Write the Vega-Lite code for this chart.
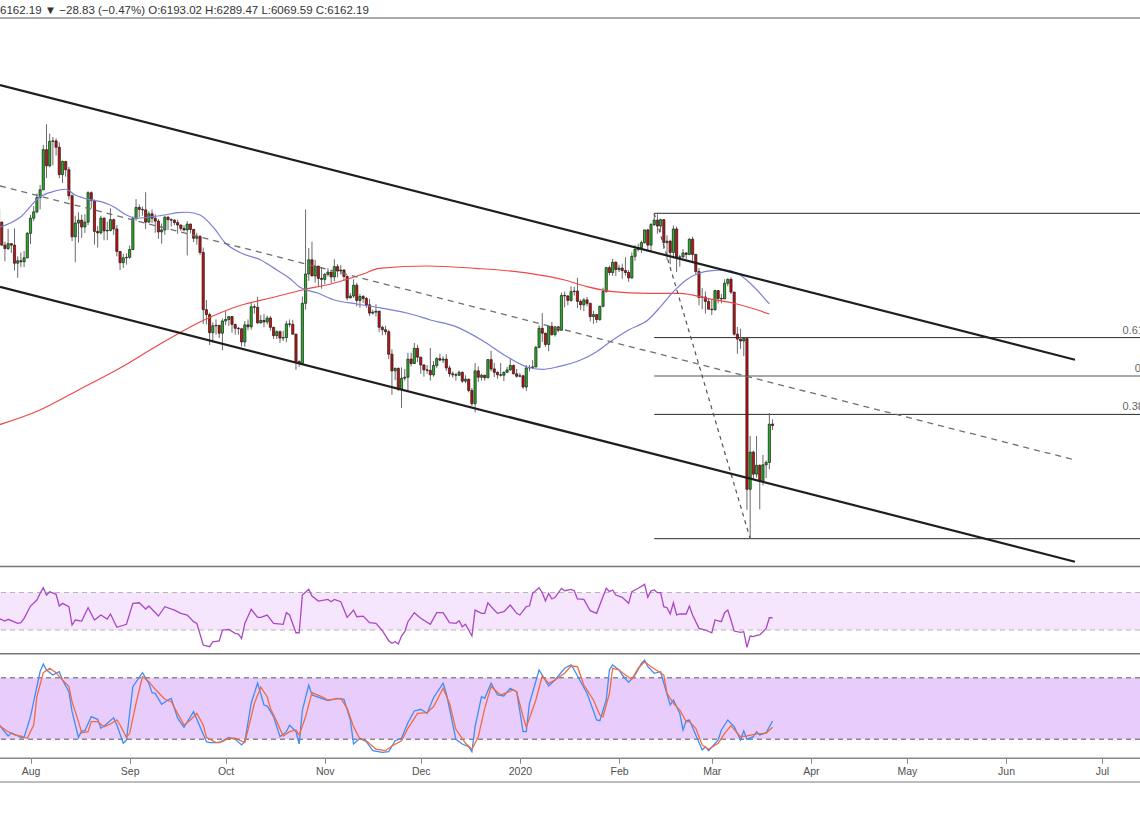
{
"$schema":"https://vega.github.io/schema/vega-lite/v6.json",
"width":1140,"height":764,
"autosize":{"type":"none"},
"padding":{"left":0,"top":18,"right":0,"bottom":33},
"background":"white",
"title":{"text":"6162.19 ▼ −28.83 (−0.47%) O:6193.02 H:6289.47 L:6069.59 C:6162.19","anchor":"start","frame":"group","orient":"top","offset":0.5,"fontSize":11.5,"font":"Liberation Sans","fontWeight":"normal","color":"#333333"},
"config":{"view":{"stroke":null}},
"datasets":{
"one":[{}],
"candles":[
{"d":"2019-07-22","o":10590,"h":10660,"l":10090,"c":10320},
{"d":"2019-07-23","o":10320,"h":10330,"l":9830,"c":9850},
{"d":"2019-07-24","o":9850,"h":9920,"l":9520,"c":9780},
{"d":"2019-07-25","o":9780,"h":10180,"l":9750,"c":9880},
{"d":"2019-07-26","o":9880,"h":9890,"l":9690,"c":9850},
{"d":"2019-07-27","o":9850,"h":10190,"l":9330,"c":9480},
{"d":"2019-07-28","o":9480,"h":9620,"l":9180,"c":9530},
{"d":"2019-07-29","o":9530,"h":9700,"l":9400,"c":9510},
{"d":"2019-07-30","o":9510,"h":9730,"l":9400,"c":9590},
{"d":"2019-07-31","o":9590,"h":10120,"l":9580,"c":10090},
{"d":"2019-08-01","o":10090,"h":10470,"l":9870,"c":10400},
{"d":"2019-08-02","o":10400,"h":10650,"l":10340,"c":10530},
{"d":"2019-08-03","o":10530,"h":10910,"l":10500,"c":10820},
{"d":"2019-08-04","o":10820,"h":11080,"l":10580,"c":10980},
{"d":"2019-08-05","o":10980,"h":11900,"l":10980,"c":11800},
{"d":"2019-08-06","o":11800,"h":12320,"l":11220,"c":11470},
{"d":"2019-08-07","o":11470,"h":12130,"l":11440,"c":11970},
{"d":"2019-08-08","o":11970,"h":12060,"l":11480,"c":11980},
{"d":"2019-08-09","o":11980,"h":12030,"l":11680,"c":11850},
{"d":"2019-08-10","o":11850,"h":11950,"l":11220,"c":11290},
{"d":"2019-08-11","o":11290,"h":11580,"l":11120,"c":11560},
{"d":"2019-08-12","o":11560,"h":11570,"l":11250,"c":11390},
{"d":"2019-08-13","o":11390,"h":11450,"l":10780,"c":10860},
{"d":"2019-08-14","o":10860,"h":10880,"l":9930,"c":10020},
{"d":"2019-08-15","o":10020,"h":10450,"l":9500,"c":10300},
{"d":"2019-08-16","o":10300,"h":10520,"l":9900,"c":10360},
{"d":"2019-08-17","o":10360,"h":10470,"l":10000,"c":10220},
{"d":"2019-08-18","o":10220,"h":10480,"l":10100,"c":10320},
{"d":"2019-08-19","o":10320,"h":10950,"l":10260,"c":10920},
{"d":"2019-08-20","o":10920,"h":10950,"l":10600,"c":10760},
{"d":"2019-08-21","o":10760,"h":10780,"l":9860,"c":10130},
{"d":"2019-08-22","o":10130,"h":10240,"l":9800,"c":10100},
{"d":"2019-08-23","o":10100,"h":10450,"l":10070,"c":10400},
{"d":"2019-08-24","o":10400,"h":10420,"l":9950,"c":10140},
{"d":"2019-08-25","o":10140,"h":10330,"l":9950,"c":10150},
{"d":"2019-08-26","o":10150,"h":10600,"l":10130,"c":10370},
{"d":"2019-08-27","o":10370,"h":10390,"l":10060,"c":10180},
{"d":"2019-08-28","o":10180,"h":10260,"l":9620,"c":9720},
{"d":"2019-08-29","o":9720,"h":9730,"l":9340,"c":9490},
{"d":"2019-08-30","o":9490,"h":9670,"l":9380,"c":9590},
{"d":"2019-08-31","o":9590,"h":9680,"l":9450,"c":9600},
{"d":"2019-09-01","o":9600,"h":9840,"l":9570,"c":9760},
{"d":"2019-09-02","o":9760,"h":10440,"l":9750,"c":10390},
{"d":"2019-09-03","o":10390,"h":10790,"l":10350,"c":10620},
{"d":"2019-09-04","o":10620,"h":10680,"l":10420,"c":10580},
{"d":"2019-09-05","o":10580,"h":10640,"l":10450,"c":10570},
{"d":"2019-09-06","o":10570,"h":10930,"l":10180,"c":10320},
{"d":"2019-09-07","o":10320,"h":10540,"l":10300,"c":10490},
{"d":"2019-09-08","o":10490,"h":10580,"l":10300,"c":10400},
{"d":"2019-09-09","o":10400,"h":10480,"l":10100,"c":10340},
{"d":"2019-09-10","o":10340,"h":10380,"l":9980,"c":10120},
{"d":"2019-09-11","o":10120,"h":10290,"l":9880,"c":10160},
{"d":"2019-09-12","o":10160,"h":10450,"l":10060,"c":10420},
{"d":"2019-09-13","o":10420,"h":10450,"l":10160,"c":10370},
{"d":"2019-09-14","o":10370,"h":10400,"l":10230,"c":10360},
{"d":"2019-09-15","o":10360,"h":10380,"l":10260,"c":10310},
{"d":"2019-09-16","o":10310,"h":10370,"l":10080,"c":10260},
{"d":"2019-09-17","o":10260,"h":10270,"l":10140,"c":10190},
{"d":"2019-09-18","o":10190,"h":10260,"l":10130,"c":10160},
{"d":"2019-09-19","o":10160,"h":10340,"l":9640,"c":10280},
{"d":"2019-09-20","o":10280,"h":10290,"l":10090,"c":10170},
{"d":"2019-09-21","o":10170,"h":10180,"l":9910,"c":9990},
{"d":"2019-09-22","o":9990,"h":10100,"l":9860,"c":10030},
{"d":"2019-09-23","o":10030,"h":10050,"l":9650,"c":9700},
{"d":"2019-09-24","o":9700,"h":9800,"l":8240,"c":8530},
{"d":"2019-09-25","o":8530,"h":8730,"l":8230,"c":8430},
{"d":"2019-09-26","o":8430,"h":8470,"l":7810,"c":8060},
{"d":"2019-09-27","o":8060,"h":8270,"l":7860,"c":8200},
{"d":"2019-09-28","o":8200,"h":8330,"l":8020,"c":8210},
{"d":"2019-09-29","o":8210,"h":8220,"l":7950,"c":8050},
{"d":"2019-09-30","o":8050,"h":8350,"l":7700,"c":8300},
{"d":"2019-10-01","o":8300,"h":8500,"l":8220,"c":8330},
{"d":"2019-10-02","o":8330,"h":8390,"l":8200,"c":8390},
{"d":"2019-10-03","o":8390,"h":8400,"l":8060,"c":8230},
{"d":"2019-10-04","o":8230,"h":8240,"l":8020,"c":8150},
{"d":"2019-10-05","o":8150,"h":8180,"l":8020,"c":8140},
{"d":"2019-10-06","o":8140,"h":8160,"l":7780,"c":7870},
{"d":"2019-10-07","o":7870,"h":8300,"l":7770,"c":8220},
{"d":"2019-10-08","o":8220,"h":8330,"l":8110,"c":8180},
{"d":"2019-10-09","o":8180,"h":8670,"l":8120,"c":8590},
{"d":"2019-10-10","o":8590,"h":8640,"l":8450,"c":8580},
{"d":"2019-10-11","o":8580,"h":8790,"l":8240,"c":8260},
{"d":"2019-10-12","o":8260,"h":8420,"l":8250,"c":8310},
{"d":"2019-10-13","o":8310,"h":8440,"l":8170,"c":8280},
{"d":"2019-10-14","o":8280,"h":8410,"l":8230,"c":8360},
{"d":"2019-10-15","o":8360,"h":8400,"l":8100,"c":8170},
{"d":"2019-10-16","o":8170,"h":8180,"l":7930,"c":8000},
{"d":"2019-10-17","o":8000,"h":8110,"l":7930,"c":8080},
{"d":"2019-10-18","o":8080,"h":8110,"l":7850,"c":7950},
{"d":"2019-10-19","o":7950,"h":8100,"l":7890,"c":7960},
{"d":"2019-10-20","o":7960,"h":8300,"l":7870,"c":8240},
{"d":"2019-10-21","o":8240,"h":8330,"l":8170,"c":8230},
{"d":"2019-10-22","o":8230,"h":8320,"l":8020,"c":8030},
{"d":"2019-10-23","o":8030,"h":8040,"l":7300,"c":7470},
{"d":"2019-10-24","o":7470,"h":7500,"l":7360,"c":7430},
{"d":"2019-10-25","o":7430,"h":8800,"l":7410,"c":8660},
{"d":"2019-10-26","o":8660,"h":10580,"l":8530,"c":9260},
{"d":"2019-10-27","o":9260,"h":9790,"l":9120,"c":9550},
{"d":"2019-10-28","o":9550,"h":9920,"l":9210,"c":9220},
{"d":"2019-10-29","o":9220,"h":9550,"l":9080,"c":9420},
{"d":"2019-10-30","o":9420,"h":9430,"l":9010,"c":9170},
{"d":"2019-10-31","o":9170,"h":9400,"l":8960,"c":9150},
{"d":"2019-11-01","o":9150,"h":9280,"l":9050,"c":9250},
{"d":"2019-11-02","o":9250,"h":9380,"l":9210,"c":9300},
{"d":"2019-11-03","o":9300,"h":9310,"l":9070,"c":9200},
{"d":"2019-11-04","o":9200,"h":9560,"l":9110,"c":9410},
{"d":"2019-11-05","o":9410,"h":9460,"l":9190,"c":9320},
{"d":"2019-11-06","o":9320,"h":9440,"l":9250,"c":9340},
{"d":"2019-11-07","o":9340,"h":9360,"l":9120,"c":9210},
{"d":"2019-11-08","o":9210,"h":9230,"l":8720,"c":8770},
{"d":"2019-11-09","o":8770,"h":8870,"l":8760,"c":8810},
{"d":"2019-11-10","o":8810,"h":9150,"l":8770,"c":9030},
{"d":"2019-11-11","o":9030,"h":9080,"l":8600,"c":8720},
{"d":"2019-11-12","o":8720,"h":8850,"l":8570,"c":8800},
{"d":"2019-11-13","o":8800,"h":8830,"l":8670,"c":8760},
{"d":"2019-11-14","o":8760,"h":8790,"l":8570,"c":8630},
{"d":"2019-11-15","o":8630,"h":8750,"l":8400,"c":8460},
{"d":"2019-11-16","o":8460,"h":8530,"l":8430,"c":8480},
{"d":"2019-11-17","o":8480,"h":8640,"l":8390,"c":8500},
{"d":"2019-11-18","o":8500,"h":8510,"l":8070,"c":8170},
{"d":"2019-11-19","o":8170,"h":8200,"l":8010,"c":8120},
{"d":"2019-11-20","o":8120,"h":8200,"l":8020,"c":8080},
{"d":"2019-11-21","o":8080,"h":8120,"l":7520,"c":7620},
{"d":"2019-11-22","o":7620,"h":7720,"l":6790,"c":7280},
{"d":"2019-11-23","o":7280,"h":7350,"l":7090,"c":7330},
{"d":"2019-11-24","o":7330,"h":7350,"l":6870,"c":6900},
{"d":"2019-11-25","o":6900,"h":7350,"l":6520,"c":7130},
{"d":"2019-11-26","o":7130,"h":7320,"l":7080,"c":7150},
{"d":"2019-11-27","o":7150,"h":7650,"l":6850,"c":7520},
{"d":"2019-11-28","o":7520,"h":7650,"l":7370,"c":7430},
{"d":"2019-11-29","o":7430,"h":7850,"l":7420,"c":7740},
{"d":"2019-11-30","o":7740,"h":7810,"l":7460,"c":7560},
{"d":"2019-12-01","o":7560,"h":7570,"l":7220,"c":7400},
{"d":"2019-12-02","o":7400,"h":7420,"l":7160,"c":7300},
{"d":"2019-12-03","o":7300,"h":7400,"l":7220,"c":7290},
{"d":"2019-12-04","o":7290,"h":7750,"l":7080,"c":7200},
{"d":"2019-12-05","o":7200,"h":7480,"l":7160,"c":7390},
{"d":"2019-12-06","o":7390,"h":7560,"l":7340,"c":7530},
{"d":"2019-12-07","o":7530,"h":7630,"l":7480,"c":7500},
{"d":"2019-12-08","o":7500,"h":7580,"l":7440,"c":7520},
{"d":"2019-12-09","o":7520,"h":7620,"l":7280,"c":7340},
{"d":"2019-12-10","o":7340,"h":7390,"l":7160,"c":7220},
{"d":"2019-12-11","o":7220,"h":7270,"l":7140,"c":7200},
{"d":"2019-12-12","o":7200,"h":7240,"l":7080,"c":7190},
{"d":"2019-12-13","o":7190,"h":7290,"l":7180,"c":7250},
{"d":"2019-12-14","o":7250,"h":7270,"l":7030,"c":7070},
{"d":"2019-12-15","o":7070,"h":7190,"l":7030,"c":7110},
{"d":"2019-12-16","o":7110,"h":7120,"l":6840,"c":6880},
{"d":"2019-12-17","o":6880,"h":6930,"l":6560,"c":6610},
{"d":"2019-12-18","o":6610,"h":7440,"l":6430,"c":7280},
{"d":"2019-12-19","o":7280,"h":7370,"l":7050,"c":7150},
{"d":"2019-12-20","o":7150,"h":7220,"l":7080,"c":7190},
{"d":"2019-12-21","o":7190,"h":7200,"l":7080,"c":7140},
{"d":"2019-12-22","o":7140,"h":7520,"l":7130,"c":7510},
{"d":"2019-12-23","o":7510,"h":7690,"l":7270,"c":7320},
{"d":"2019-12-24","o":7320,"h":7440,"l":7150,"c":7250},
{"d":"2019-12-25","o":7250,"h":7270,"l":7120,"c":7200},
{"d":"2019-12-26","o":7200,"h":7440,"l":7160,"c":7190},
{"d":"2019-12-27","o":7190,"h":7270,"l":7070,"c":7250},
{"d":"2019-12-28","o":7250,"h":7360,"l":7240,"c":7300},
{"d":"2019-12-29","o":7300,"h":7520,"l":7280,"c":7390},
{"d":"2019-12-30","o":7390,"h":7410,"l":7210,"c":7220},
{"d":"2019-12-31","o":7220,"h":7320,"l":7140,"c":7170},
{"d":"2020-01-01","o":7170,"h":7240,"l":7150,"c":7180},
{"d":"2020-01-02","o":7180,"h":7200,"l":6910,"c":6950},
{"d":"2020-01-03","o":6950,"h":7400,"l":6870,"c":7340},
{"d":"2020-01-04","o":7340,"h":7400,"l":7270,"c":7350},
{"d":"2020-01-05","o":7350,"h":7500,"l":7320,"c":7360},
{"d":"2020-01-06","o":7360,"h":7790,"l":7350,"c":7760},
{"d":"2020-01-07","o":7760,"h":8210,"l":7740,"c":8150},
{"d":"2020-01-08","o":8150,"h":8460,"l":7870,"c":8050},
{"d":"2020-01-09","o":8050,"h":8060,"l":7770,"c":7820},
{"d":"2020-01-10","o":7820,"h":8200,"l":7680,"c":8190},
{"d":"2020-01-11","o":8190,"h":8280,"l":8000,"c":8020},
{"d":"2020-01-12","o":8020,"h":8190,"l":7980,"c":8180},
{"d":"2020-01-13","o":8180,"h":8190,"l":8070,"c":8110},
{"d":"2020-01-14","o":8110,"h":8880,"l":8100,"c":8820},
{"d":"2020-01-15","o":8820,"h":8900,"l":8580,"c":8810},
{"d":"2020-01-16","o":8810,"h":8830,"l":8620,"c":8720},
{"d":"2020-01-17","o":8720,"h":9010,"l":8690,"c":8900},
{"d":"2020-01-18","o":8900,"h":9000,"l":8820,"c":8910},
{"d":"2020-01-19","o":8910,"h":9180,"l":8560,"c":8700},
{"d":"2020-01-20","o":8700,"h":8740,"l":8520,"c":8630},
{"d":"2020-01-21","o":8630,"h":8770,"l":8500,"c":8730},
{"d":"2020-01-22","o":8730,"h":8790,"l":8600,"c":8660},
{"d":"2020-01-23","o":8660,"h":8670,"l":8290,"c":8390},
{"d":"2020-01-24","o":8390,"h":8510,"l":8240,"c":8430},
{"d":"2020-01-25","o":8430,"h":8440,"l":8260,"c":8330},
{"d":"2020-01-26","o":8330,"h":8610,"l":8300,"c":8600},
{"d":"2020-01-27","o":8600,"h":8980,"l":8580,"c":8900},
{"d":"2020-01-28","o":8900,"h":9400,"l":8880,"c":9390},
{"d":"2020-01-29","o":9390,"h":9430,"l":9230,"c":9290},
{"d":"2020-01-30","o":9290,"h":9570,"l":9220,"c":9500},
{"d":"2020-01-31","o":9500,"h":9520,"l":9220,"c":9350},
{"d":"2020-02-01","o":9350,"h":9450,"l":9300,"c":9380},
{"d":"2020-02-02","o":9380,"h":9470,"l":9160,"c":9330},
{"d":"2020-02-03","o":9330,"h":9600,"l":9230,"c":9290},
{"d":"2020-02-04","o":9290,"h":9340,"l":9100,"c":9180},
{"d":"2020-02-05","o":9180,"h":9700,"l":9160,"c":9620},
{"d":"2020-02-06","o":9620,"h":9850,"l":9530,"c":9760},
{"d":"2020-02-07","o":9760,"h":9880,"l":9720,"c":9800},
{"d":"2020-02-08","o":9800,"h":9940,"l":9690,"c":9900},
{"d":"2020-02-09","o":9900,"h":10160,"l":9880,"c":10160},
{"d":"2020-02-10","o":10160,"h":10180,"l":9730,"c":9850},
{"d":"2020-02-11","o":9850,"h":10300,"l":9720,"c":10270},
{"d":"2020-02-12","o":10270,"h":10500,"l":10240,"c":10360},
{"d":"2020-02-13","o":10360,"h":10480,"l":10080,"c":10240},
{"d":"2020-02-14","o":10240,"h":10390,"l":10120,"c":10370},
{"d":"2020-02-15","o":10370,"h":10380,"l":9770,"c":9900},
{"d":"2020-02-16","o":9900,"h":10050,"l":9550,"c":9930},
{"d":"2020-02-17","o":9930,"h":9960,"l":9460,"c":9700},
{"d":"2020-02-18","o":9700,"h":10250,"l":9600,"c":10180},
{"d":"2020-02-19","o":10180,"h":10230,"l":9300,"c":9600},
{"d":"2020-02-20","o":9600,"h":9650,"l":9410,"c":9610},
{"d":"2020-02-21","o":9610,"h":9770,"l":9580,"c":9690},
{"d":"2020-02-22","o":9690,"h":9700,"l":9560,"c":9660},
{"d":"2020-02-23","o":9660,"h":9990,"l":9650,"c":9970},
{"d":"2020-02-24","o":9970,"h":10020,"l":9490,"c":9660},
{"d":"2020-02-25","o":9660,"h":9670,"l":9250,"c":9310},
{"d":"2020-02-26","o":9310,"h":9380,"l":8620,"c":8780},
{"d":"2020-02-27","o":8780,"h":8970,"l":8540,"c":8790},
{"d":"2020-02-28","o":8790,"h":8900,"l":8450,"c":8700},
{"d":"2020-02-29","o":8700,"h":8770,"l":8540,"c":8540},
{"d":"2020-03-01","o":8540,"h":8750,"l":8420,"c":8530},
{"d":"2020-03-02","o":8530,"h":8940,"l":8510,"c":8920},
{"d":"2020-03-03","o":8920,"h":8930,"l":8660,"c":8760},
{"d":"2020-03-04","o":8760,"h":8850,"l":8660,"c":8750},
{"d":"2020-03-05","o":8750,"h":9150,"l":8750,"c":9070},
{"d":"2020-03-06","o":9070,"h":9170,"l":9010,"c":9150},
{"d":"2020-03-07","o":9150,"h":9190,"l":8850,"c":8890},
{"d":"2020-03-08","o":8890,"h":8890,"l":8000,"c":8030},
{"d":"2020-03-09","o":8030,"h":8180,"l":7630,"c":7930},
{"d":"2020-03-10","o":7930,"h":8140,"l":7730,"c":7890},
{"d":"2020-03-11","o":7890,"h":7960,"l":7580,"c":7940},
{"d":"2020-03-12","o":7940,"h":7960,"l":4440,"c":4860},
{"d":"2020-03-13","o":4860,"h":5950,"l":3850,"c":5620},
{"d":"2020-03-14","o":5620,"h":5650,"l":5070,"c":5170},
{"d":"2020-03-15","o":5170,"h":5950,"l":5100,"c":5350},
{"d":"2020-03-16","o":5350,"h":5370,"l":4450,"c":5020},
{"d":"2020-03-17","o":5020,"h":5560,"l":4940,"c":5360},
{"d":"2020-03-18","o":5360,"h":5450,"l":5090,"c":5410},
{"d":"2020-03-19","o":5410,"h":6420,"l":5270,"c":6190},
{"d":"2020-03-20","o":6193.02,"h":6289.47,"l":6069.59,"c":6162.19}
],
"ma50":[
{"d":"2019-07-22","v":10206},{"d":"2019-07-29","v":10431},{"d":"2019-08-04","v":10839},{"d":"2019-08-08","v":10942},{"d":"2019-08-12","v":10991},{"d":"2019-08-15","v":10874},{"d":"2019-08-19","v":10786},{"d":"2019-08-23","v":10737},{"d":"2019-08-27","v":10635},{"d":"2019-08-31","v":10465},{"d":"2019-09-03","v":10398},{"d":"2019-09-08","v":10431},{"d":"2019-09-12","v":10465},{"d":"2019-09-16","v":10512},{"d":"2019-09-19","v":10521},{"d":"2019-09-23","v":10465},{"d":"2019-09-27","v":10226},{"d":"2019-10-01","v":9887},{"d":"2019-10-06","v":9683},{"d":"2019-10-12","v":9546},{"d":"2019-10-17","v":9341},{"d":"2019-10-21","v":9172},{"d":"2019-10-24","v":9000},{"d":"2019-10-30","v":8865},{"d":"2019-11-04","v":8728},{"d":"2019-11-11","v":8647},{"d":"2019-11-18","v":8571},{"d":"2019-11-29","v":8422},{"d":"2019-12-04","v":8320},{"d":"2019-12-12","v":8183},{"d":"2019-12-20","v":7911},{"d":"2019-12-28","v":7570},{"d":"2020-01-03","v":7365},{"d":"2020-01-08","v":7312},{"d":"2020-01-13","v":7365},{"d":"2020-01-20","v":7502},{"d":"2020-01-25","v":7672},{"d":"2020-01-30","v":7911},{"d":"2020-02-04","v":8115},{"d":"2020-02-10","v":8320},{"d":"2020-02-14","v":8592},{"d":"2020-02-18","v":8898},{"d":"2020-02-22","v":9137},{"d":"2020-02-26","v":9274},{"d":"2020-03-01","v":9327},{"d":"2020-03-05","v":9341},{"d":"2020-03-09","v":9274},{"d":"2020-03-13","v":9070},{"d":"2020-03-19","v":8647}
],
"ma200":[
{"d":"2019-07-22","v":6174},{"d":"2019-08-04","v":6480},{"d":"2019-08-16","v":6889},{"d":"2019-08-29","v":7338},{"d":"2019-09-10","v":7808},{"d":"2019-09-23","v":8279},{"d":"2019-10-06","v":8626},{"d":"2019-10-15","v":8769},{"d":"2019-10-25","v":8933},{"d":"2019-11-04","v":9076},{"d":"2019-11-13","v":9260},{"d":"2019-11-18","v":9376},{"d":"2019-12-03","v":9423},{"d":"2019-12-18","v":9376},{"d":"2020-01-04","v":9274},{"d":"2020-01-15","v":9137},{"d":"2020-01-22","v":9000},{"d":"2020-01-30","v":8898},{"d":"2020-02-10","v":8865},{"d":"2020-02-20","v":8865},{"d":"2020-03-01","v":8742},{"d":"2020-03-08","v":8661},{"d":"2020-03-19","v":8442}
],
"channel":[
{"ln":"upper","d":"2019-07-22T11:08:00Z","p":13122},{"ln":"upper","d":"2020-06-22T13:27:00Z","p":7506},
{"ln":"lower","d":"2019-07-22T11:08:00Z","p":8996},{"ln":"lower","d":"2020-06-22T13:27:00Z","p":3380}
],
"midline":[
{"d":"2019-07-22T11:08:00Z","p":11058},{"d":"2020-06-22T13:27:00Z","p":5458}
],
"fibdiag":[
{"d":"2020-02-12","p":10500},{"d":"2020-03-13","p":3850}
],
"fib":[
{"lvl":"1","d":"2020-02-12","d2":"2020-08-01","p":10500},
{"lvl":"0.618","d":"2020-02-12","d2":"2020-08-01","p":7959.7},
{"lvl":"0.5","d":"2020-02-12","d2":"2020-08-01","p":7175},
{"lvl":"0.382","d":"2020-02-12","d2":"2020-08-01","p":6390.3},
{"lvl":"0","d":"2020-02-12","d2":"2020-08-01","p":3850}
],
"rsi":[
{"d":"2019-07-22","v":42.5},{"d":"2019-07-24","v":39.6},{"d":"2019-07-25","v":41.4},{"d":"2019-07-28","v":37.1},{"d":"2019-07-29","v":37.8},{"d":"2019-07-30","v":42.5},{"d":"2019-08-01","v":55.6},{"d":"2019-08-03","v":62.0},{"d":"2019-08-04","v":69.1},{"d":"2019-08-05","v":75.1},{"d":"2019-08-06","v":67.3},{"d":"2019-08-07","v":70.9},{"d":"2019-08-09","v":68.1},{"d":"2019-08-10","v":55.6},{"d":"2019-08-11","v":58.5},{"d":"2019-08-13","v":54.9},{"d":"2019-08-14","v":35.3},{"d":"2019-08-15","v":40.7},{"d":"2019-08-17","v":39.6},{"d":"2019-08-19","v":53.8},{"d":"2019-08-21","v":40.7},{"d":"2019-08-23","v":46.0},{"d":"2019-08-25","v":41.7},{"d":"2019-08-26","v":47.1},{"d":"2019-08-28","v":32.9},{"d":"2019-08-31","v":36.1},
{"d":"2019-09-02","v":58.5},{"d":"2019-09-04","v":59.1},{"d":"2019-09-06","v":52.4},{"d":"2019-09-07","v":55.6},{"d":"2019-09-10","v":44.9},{"d":"2019-09-12","v":54.9},{"d":"2019-09-15","v":51.3},{"d":"2019-09-17","v":47.8},{"d":"2019-09-19","v":46.0},{"d":"2019-09-21","v":38.9},{"d":"2019-09-22","v":37.1},{"d":"2019-09-24","v":14.0},{"d":"2019-09-26","v":12.2},{"d":"2019-09-27","v":17.5},{"d":"2019-09-29","v":18.3},{"d":"2019-09-30","v":30.0},
{"d":"2019-10-02","v":30.7},{"d":"2019-10-04","v":26.5},{"d":"2019-10-05","v":25.7},{"d":"2019-10-06","v":21.1},{"d":"2019-10-07","v":37.1},{"d":"2019-10-09","v":52.1},{"d":"2019-10-11","v":43.5},{"d":"2019-10-12","v":43.5},{"d":"2019-10-14","v":46.0},{"d":"2019-10-16","v":37.1},{"d":"2019-10-19","v":36.1},{"d":"2019-10-20","v":48.5},{"d":"2019-10-21","v":46.0},{"d":"2019-10-23","v":27.1},{"d":"2019-10-24","v":27.1},{"d":"2019-10-25","v":67.3},{"d":"2019-10-27","v":73.4},{"d":"2019-10-28","v":66.3},{"d":"2019-10-30","v":60.9},
{"d":"2019-11-02","v":62.7},{"d":"2019-11-03","v":60.2},{"d":"2019-11-04","v":62.7},{"d":"2019-11-06","v":60.2},{"d":"2019-11-08","v":43.5},{"d":"2019-11-10","v":51.3},{"d":"2019-11-11","v":44.2},{"d":"2019-11-13","v":44.9},{"d":"2019-11-15","v":37.8},{"d":"2019-11-17","v":37.1},{"d":"2019-11-19","v":29.3},{"d":"2019-11-21","v":18.6},{"d":"2019-11-22","v":15.8},{"d":"2019-11-23","v":17.5},{"d":"2019-11-24","v":15.1},{"d":"2019-11-25","v":23.6},{"d":"2019-11-26","v":28.2},{"d":"2019-11-27","v":38.9},{"d":"2019-11-29","v":48.5},
{"d":"2019-12-01","v":42.5},{"d":"2019-12-04","v":36.1},{"d":"2019-12-06","v":48.5},{"d":"2019-12-08","v":48.5},{"d":"2019-12-10","v":37.8},{"d":"2019-12-12","v":37.1},{"d":"2019-12-13","v":39.9},{"d":"2019-12-14","v":33.5},{"d":"2019-12-15","v":36.1},{"d":"2019-12-17","v":23.6},{"d":"2019-12-18","v":51.3},{"d":"2019-12-20","v":47.8},{"d":"2019-12-21","v":47.8},{"d":"2019-12-22","v":59.1},{"d":"2019-12-24","v":51.3},{"d":"2019-12-25","v":47.8},{"d":"2019-12-27","v":49.5},{"d":"2019-12-29","v":56.7},{"d":"2019-12-31","v":47.8},
{"d":"2020-01-01","v":46.0},{"d":"2020-01-03","v":54.9},{"d":"2020-01-04","v":55.6},{"d":"2020-01-05","v":69.1},{"d":"2020-01-07","v":75.1},{"d":"2020-01-08","v":69.8},{"d":"2020-01-09","v":60.9},{"d":"2020-01-10","v":69.1},{"d":"2020-01-11","v":63.1},{"d":"2020-01-12","v":64.9},{"d":"2020-01-14","v":74.5},{"d":"2020-01-15","v":71.9},{"d":"2020-01-17","v":73.4},{"d":"2020-01-18","v":71.9},{"d":"2020-01-19","v":63.1},{"d":"2020-01-21","v":62.7},{"d":"2020-01-23","v":50.6},{"d":"2020-01-25","v":47.8},{"d":"2020-01-28","v":74.5},{"d":"2020-01-29","v":70.9},{"d":"2020-01-30","v":72.7},{"d":"2020-01-31","v":67.3},
{"d":"2020-02-02","v":64.9},{"d":"2020-02-04","v":58.5},{"d":"2020-02-05","v":70.9},{"d":"2020-02-07","v":74.5},{"d":"2020-02-09","v":78.7},{"d":"2020-02-10","v":64.9},{"d":"2020-02-11","v":71.9},{"d":"2020-02-12","v":72.7},{"d":"2020-02-13","v":69.8},{"d":"2020-02-14","v":69.8},{"d":"2020-02-15","v":54.9},{"d":"2020-02-16","v":53.8},{"d":"2020-02-17","v":47.1},{"d":"2020-02-18","v":59.1},{"d":"2020-02-19","v":46.0},{"d":"2020-02-20","v":47.1},{"d":"2020-02-22","v":47.1},{"d":"2020-02-23","v":55.6},{"d":"2020-02-24","v":46.0},{"d":"2020-02-26","v":31.8},{"d":"2020-02-28","v":30.0},
{"d":"2020-03-01","v":27.1},{"d":"2020-03-02","v":40.7},{"d":"2020-03-04","v":38.9},{"d":"2020-03-05","v":48.5},{"d":"2020-03-06","v":51.3},{"d":"2020-03-07","v":40.7},{"d":"2020-03-08","v":28.9},{"d":"2020-03-10","v":27.5},{"d":"2020-03-11","v":28.2},{"d":"2020-03-12","v":11.5},{"d":"2020-03-13","v":23.6},{"d":"2020-03-14","v":22.9},{"d":"2020-03-15","v":24.3},{"d":"2020-03-16","v":24.7},{"d":"2020-03-17","v":28.2},{"d":"2020-03-18","v":31.8},{"d":"2020-03-19","v":43.1},{"d":"2020-03-20","v":43.1}
],
"stk":[
{"d":"2019-07-22","v":34.9},{"d":"2019-07-25","v":23.2},{"d":"2019-07-26","v":26.4},{"d":"2019-07-29","v":21.9},{"d":"2019-07-30","v":21.9},{"d":"2019-08-01","v":42.0},{"d":"2019-08-03","v":71.3},{"d":"2019-08-04","v":85.8},{"d":"2019-08-05","v":93.3},{"d":"2019-08-06","v":87.5},{"d":"2019-08-08","v":82.6},{"d":"2019-08-10","v":85.8},{"d":"2019-08-11","v":77.8},{"d":"2019-08-13","v":66.3},{"d":"2019-08-14","v":46.9},{"d":"2019-08-16","v":21.9},{"d":"2019-08-17","v":28.1},{"d":"2019-08-18","v":28.4},{"d":"2019-08-20","v":42.0},{"d":"2019-08-22","v":39.5},{"d":"2019-08-23","v":30.7},{"d":"2019-08-24","v":33.0},{"d":"2019-08-27","v":41.0},{"d":"2019-08-28","v":33.9},{"d":"2019-08-30","v":16.1},{"d":"2019-08-31","v":19.3},
{"d":"2019-09-02","v":71.3},{"d":"2019-09-05","v":84.9},{"d":"2019-09-07","v":74.5},{"d":"2019-09-08","v":65.4},{"d":"2019-09-09","v":64.8},{"d":"2019-09-11","v":54.1},{"d":"2019-09-13","v":58.3},{"d":"2019-09-14","v":59.9},{"d":"2019-09-16","v":40.5},{"d":"2019-09-18","v":31.7},{"d":"2019-09-20","v":42.0},{"d":"2019-09-21","v":46.9},{"d":"2019-09-23","v":32.3},{"d":"2019-09-25","v":17.7},{"d":"2019-09-26","v":16.7},{"d":"2019-09-29","v":16.7},
{"d":"2019-10-02","v":21.9},{"d":"2019-10-04","v":20.0},{"d":"2019-10-06","v":14.5},{"d":"2019-10-07","v":17.7},{"d":"2019-10-09","v":55.1},{"d":"2019-10-11","v":74.8},{"d":"2019-10-13","v":53.4},{"d":"2019-10-14","v":52.4},{"d":"2019-10-16","v":42.0},{"d":"2019-10-18","v":22.5},{"d":"2019-10-20","v":27.4},{"d":"2019-10-21","v":33.9},{"d":"2019-10-23","v":27.4},{"d":"2019-10-24","v":15.4},{"d":"2019-10-25","v":48.5},{"d":"2019-10-27","v":72.9},{"d":"2019-10-28","v":63.2},{"d":"2019-10-31","v":59.9},
{"d":"2019-11-02","v":57.6},{"d":"2019-11-05","v":59.9},{"d":"2019-11-07","v":59.0},{"d":"2019-11-09","v":38.8},{"d":"2019-11-10","v":15.4},{"d":"2019-11-12","v":21.0},{"d":"2019-11-14","v":17.7},{"d":"2019-11-16","v":8.9},{"d":"2019-11-19","v":7.3},{"d":"2019-11-21","v":7.9},{"d":"2019-11-23","v":18.6},{"d":"2019-11-25","v":21.0},{"d":"2019-11-27","v":36.2},{"d":"2019-11-29","v":47.6},
{"d":"2019-12-01","v":49.2},{"d":"2019-12-03","v":45.3},{"d":"2019-12-05","v":60.5},{"d":"2019-12-08","v":74.5},{"d":"2019-12-09","v":64.8},{"d":"2019-12-12","v":20.0},{"d":"2019-12-14","v":15.4},{"d":"2019-12-16","v":12.8},{"d":"2019-12-17","v":7.9},{"d":"2019-12-18","v":32.3},{"d":"2019-12-20","v":61.5},{"d":"2019-12-21","v":59.9},{"d":"2019-12-23","v":74.5},{"d":"2019-12-25","v":63.2},{"d":"2019-12-27","v":62.2},{"d":"2019-12-29","v":69.7},{"d":"2019-12-31","v":66.4},
{"d":"2020-01-02","v":27.4},{"d":"2020-01-03","v":27.4},{"d":"2020-01-04","v":55.1},{"d":"2020-01-07","v":87.5},{"d":"2020-01-08","v":82.6},{"d":"2020-01-10","v":71.9},{"d":"2020-01-12","v":77.8},{"d":"2020-01-15","v":89.2},{"d":"2020-01-17","v":92.4},{"d":"2020-01-18","v":87.5},{"d":"2020-01-20","v":76.1},{"d":"2020-01-22","v":64.8},{"d":"2020-01-25","v":38.8},{"d":"2020-01-26","v":38.1},{"d":"2020-01-28","v":58.3},{"d":"2020-01-29","v":87.5},{"d":"2020-01-30","v":92.4},
{"d":"2020-02-01","v":87.5},{"d":"2020-02-02","v":82.6},{"d":"2020-02-04","v":75.5},{"d":"2020-02-06","v":82.6},{"d":"2020-02-08","v":94.0},{"d":"2020-02-09","v":97.2},{"d":"2020-02-10","v":90.7},{"d":"2020-02-12","v":84.3},{"d":"2020-02-14","v":85.8},{"d":"2020-02-15","v":74.5},{"d":"2020-02-17","v":53.4},{"d":"2020-02-18","v":58.3},{"d":"2020-02-20","v":45.3},{"d":"2020-02-21","v":29.1},{"d":"2020-02-22","v":38.1},{"d":"2020-02-23","v":38.8},{"d":"2020-02-25","v":24.2},{"d":"2020-02-27","v":9.6},{"d":"2020-02-28","v":12.8},{"d":"2020-02-29","v":8.9},
{"d":"2020-03-03","v":19.3},{"d":"2020-03-04","v":29.1},{"d":"2020-03-06","v":38.8},{"d":"2020-03-08","v":32.3},{"d":"2020-03-10","v":19.3},{"d":"2020-03-11","v":28.1},{"d":"2020-03-12","v":20.0},{"d":"2020-03-14","v":22.5},{"d":"2020-03-15","v":27.4},{"d":"2020-03-16","v":24.2},{"d":"2020-03-18","v":26.4},{"d":"2020-03-20","v":37.8}
],
"std":[
{"d":"2019-07-22","v":33.9},{"d":"2019-07-25","v":27.4},{"d":"2019-07-27","v":24.2},{"d":"2019-07-29","v":23.2},{"d":"2019-07-31","v":21.0},{"d":"2019-08-02","v":33.9},{"d":"2019-08-03","v":61.5},{"d":"2019-08-05","v":84.9},{"d":"2019-08-07","v":89.2},{"d":"2019-08-09","v":84.9},{"d":"2019-08-10","v":81.0},{"d":"2019-08-13","v":71.3},{"d":"2019-08-14","v":56.6},{"d":"2019-08-16","v":37.2},{"d":"2019-08-17","v":26.4},{"d":"2019-08-19","v":27.4},{"d":"2019-08-20","v":37.2},{"d":"2019-08-22","v":37.2},{"d":"2019-08-24","v":32.3},{"d":"2019-08-26","v":34.9},{"d":"2019-08-28","v":38.8},{"d":"2019-08-29","v":33.9},{"d":"2019-08-31","v":21.9},
{"d":"2019-09-01","v":25.8},{"d":"2019-09-03","v":55.1},{"d":"2019-09-05","v":81.0},{"d":"2019-09-07","v":76.1},{"d":"2019-09-09","v":68.7},{"d":"2019-09-12","v":59.0},{"d":"2019-09-14","v":56.6},{"d":"2019-09-16","v":45.3},{"d":"2019-09-18","v":33.9},{"d":"2019-09-20","v":38.8},{"d":"2019-09-22","v":45.3},{"d":"2019-09-24","v":33.9},{"d":"2019-09-25","v":21.9},{"d":"2019-09-28","v":16.7},{"d":"2019-09-30","v":17.7},
{"d":"2019-10-02","v":21.0},{"d":"2019-10-04","v":21.0},{"d":"2019-10-07","v":16.7},{"d":"2019-10-08","v":29.1},{"d":"2019-10-10","v":55.1},{"d":"2019-10-12","v":70.7},{"d":"2019-10-14","v":61.5},{"d":"2019-10-15","v":50.2},{"d":"2019-10-17","v":37.2},{"d":"2019-10-19","v":23.2},{"d":"2019-10-21","v":27.4},{"d":"2019-10-23","v":29.1},{"d":"2019-10-24","v":24.2},{"d":"2019-10-26","v":42.0},{"d":"2019-10-28","v":65.4},{"d":"2019-10-31","v":61.5},
{"d":"2019-11-02","v":58.3},{"d":"2019-11-06","v":59.9},{"d":"2019-11-08","v":50.2},{"d":"2019-11-10","v":32.3},{"d":"2019-11-12","v":20.0},{"d":"2019-11-14","v":18.6},{"d":"2019-11-17","v":10.3},{"d":"2019-11-20","v":8.9},{"d":"2019-11-22","v":13.5},{"d":"2019-11-25","v":18.6},{"d":"2019-11-27","v":30.7},{"d":"2019-11-30","v":45.3},
{"d":"2019-12-03","v":45.9},{"d":"2019-12-05","v":51.7},{"d":"2019-12-08","v":69.7},{"d":"2019-12-10","v":55.1},{"d":"2019-12-12","v":29.7},{"d":"2019-12-15","v":16.1},{"d":"2019-12-17","v":10.3},{"d":"2019-12-19","v":22.5},{"d":"2019-12-21","v":50.2},{"d":"2019-12-23","v":71.3},{"d":"2019-12-26","v":63.2},{"d":"2019-12-30","v":68.0},{"d":"2019-12-31","v":66.4},
{"d":"2020-01-02","v":42.0},{"d":"2020-01-03","v":31.7},{"d":"2020-01-06","v":58.3},{"d":"2020-01-08","v":81.7},{"d":"2020-01-10","v":74.5},{"d":"2020-01-12","v":77.8},{"d":"2020-01-15","v":84.3},{"d":"2020-01-17","v":91.4},{"d":"2020-01-19","v":90.7},{"d":"2020-01-21","v":72.9},{"d":"2020-01-24","v":58.3},{"d":"2020-01-26","v":43.7},{"d":"2020-01-27","v":42.0},{"d":"2020-01-29","v":64.8},{"d":"2020-01-30","v":89.2},
{"d":"2020-02-01","v":87.5},{"d":"2020-02-03","v":82.6},{"d":"2020-02-05","v":78.4},{"d":"2020-02-07","v":89.2},{"d":"2020-02-09","v":95.6},{"d":"2020-02-11","v":90.7},{"d":"2020-02-13","v":86.8},{"d":"2020-02-15","v":82.6},{"d":"2020-02-16","v":64.8},{"d":"2020-02-18","v":55.1},{"d":"2020-02-20","v":48.5},{"d":"2020-02-22","v":37.2},{"d":"2020-02-23","v":37.2},{"d":"2020-02-25","v":30.7},{"d":"2020-02-27","v":14.5},{"d":"2020-02-29","v":10.3},
{"d":"2020-03-03","v":16.1},{"d":"2020-03-05","v":25.8},{"d":"2020-03-07","v":33.3},{"d":"2020-03-10","v":22.5},{"d":"2020-03-12","v":23.3},{"d":"2020-03-15","v":25.2},{"d":"2020-03-18","v":25.9},{"d":"2020-03-20","v":31.8}
],
"rsilev":[{"v":70},{"v":30}],
"stlev":[{"v":80},{"v":20}]
},
"layer":[
{"layer":[
{"data":{"name":"fib"},"mark":{"type":"rule","clip":true},
 "encoding":{"x":{"field":"d","type":"temporal","scale":{"type":"utc","nice":false,"padding":0,"domain":[{"year":2019,"month":7,"date":22,"hours":11,"minutes":8,"utc":true},{"year":2020,"month":7,"date":12,"hours":21,"minutes":7,"utc":true}]},"axis":{"orient":"bottom","offset":-23.7,"title":null,"grid":false,"domain":false,"ticks":true,"tickSize":5,"tickColor":"#888888","labelColor":"#505050","labelFontSize":10.5,"labelFont":"Liberation Sans","labelPadding":3,"labelFlush":false,"labelOverlap":false,"values":[{"year":2019,"month":8,"date":1,"utc":true},{"year":2019,"month":9,"date":1,"utc":true},{"year":2019,"month":10,"date":1,"utc":true},{"year":2019,"month":11,"date":1,"utc":true},{"year":2019,"month":12,"date":1,"utc":true},{"year":2020,"month":1,"date":1,"utc":true},{"year":2020,"month":2,"date":1,"utc":true},{"year":2020,"month":3,"date":1,"utc":true},{"year":2020,"month":4,"date":1,"utc":true},{"year":2020,"month":5,"date":1,"utc":true},{"year":2020,"month":6,"date":1,"utc":true},{"year":2020,"month":7,"date":1,"utc":true}],"labelExpr":"utcFormat(datum.value,'%m')=='01' ? utcFormat(datum.value,'%Y') : utcFormat(datum.value,'%b')"}},
  "x2":{"field":"d2"},
  "y":{"field":"p","type":"quantitative","scale":{"domain":[-1122.3,14491.2],"nice":false,"zero":false},"axis":null},
  "color":{"condition":{"test":"datum.lvl=='0.5'","value":"#8c8c8c"},"value":"#2a2a2a"},
  "strokeWidth":{"condition":{"test":"datum.lvl=='0.5'","value":1.6},"value":1}}},
{"data":{"name":"fib"},"transform":[{"filter":"datum.lvl!='0'"}],"mark":{"type":"text","align":"right","baseline":"alphabetic","dx":10,"dy":-4,"fontSize":11,"font":"Liberation Sans","color":"#666666"},
 "encoding":{"x":{"datum":{"year":2020,"month":7,"date":12,"hours":21,"minutes":7,"utc":true},"type":"temporal"},
  "y":{"field":"p","type":"quantitative","scale":{"domain":[-1122.3,14491.2],"nice":false,"zero":false},"axis":null},
  "text":{"field":"lvl"}}},
{"data":{"name":"candles"},"mark":{"type":"rule","clip":true,"color":"#6a6a6a","strokeWidth":1},
 "encoding":{"x":{"field":"d","type":"temporal"},
  "y":{"field":"l","type":"quantitative","scale":{"domain":[-1122.3,14491.2],"nice":false,"zero":false},"axis":null},
  "y2":{"field":"h"}}},
{"data":{"name":"candles"},"mark":{"type":"bar","clip":true,"width":2.2,"stroke":"#1a1a1a","strokeWidth":0.7},
 "encoding":{"x":{"field":"d","type":"temporal"},
  "y":{"field":"o","type":"quantitative","scale":{"domain":[-1122.3,14491.2],"nice":false,"zero":false},"axis":null},
  "y2":{"field":"c"},
  "fill":{"condition":{"test":"datum.c>=datum.o","value":"#26b326"},"value":"#c8100f"}}},
{"data":{"name":"ma200"},"mark":{"type":"line","clip":true,"color":"#f04848","strokeWidth":1.2,"interpolate":"monotone"},
 "encoding":{"x":{"field":"d","type":"temporal"},
  "y":{"field":"v","type":"quantitative","scale":{"domain":[-1122.3,14491.2],"nice":false,"zero":false},"axis":null}}},
{"data":{"name":"ma50"},"mark":{"type":"line","clip":true,"color":"#7b7fd6","strokeWidth":1.2,"interpolate":"monotone"},
 "encoding":{"x":{"field":"d","type":"temporal"},
  "y":{"field":"v","type":"quantitative","scale":{"domain":[-1122.3,14491.2],"nice":false,"zero":false},"axis":null}}},
{"data":{"name":"midline"},"mark":{"type":"line","clip":true,"color":"#707070","strokeWidth":1.3,"strokeDash":[6,5]},
 "encoding":{"x":{"field":"d","type":"temporal"},
  "y":{"field":"p","type":"quantitative","scale":{"domain":[-1122.3,14491.2],"nice":false,"zero":false},"axis":null}}},
{"data":{"name":"fibdiag"},"mark":{"type":"line","clip":true,"color":"#555555","strokeWidth":1.2,"strokeDash":[4,4]},
 "encoding":{"x":{"field":"d","type":"temporal"},
  "y":{"field":"p","type":"quantitative","scale":{"domain":[-1122.3,14491.2],"nice":false,"zero":false},"axis":null}}},
{"data":{"name":"channel"},"mark":{"type":"line","clip":true,"color":"#1e1e1e","strokeWidth":2.2},
 "encoding":{"x":{"field":"d","type":"temporal"},
  "y":{"field":"p","type":"quantitative","scale":{"domain":[-1122.3,14491.2],"nice":false,"zero":false},"axis":null},
  "detail":{"field":"ln"}}},
{"data":{"name":"one"},"mark":{"type":"rule","color":"#8c8c8c","strokeWidth":1.5},
 "encoding":{"y":{"datum":14491.2,"type":"quantitative","scale":{"domain":[-1122.3,14491.2],"nice":false,"zero":false},"axis":null}}},
{"data":{"name":"one"},"mark":{"type":"rule","color":"#777777","strokeWidth":1.5},
 "encoding":{"y":{"datum":3282,"type":"quantitative","scale":{"domain":[-1122.3,14491.2],"nice":false,"zero":false},"axis":null}}}
]},
{"layer":[
{"data":{"name":"one"},"mark":{"type":"rect","color":"#f5e6fd"},
 "encoding":{"x":{"datum":{"year":2019,"month":7,"date":22,"hours":11,"minutes":8,"utc":true},"type":"temporal"},
  "x2":{"datum":{"year":2020,"month":7,"date":12,"hours":21,"minutes":7,"utc":true}},
  "y":{"datum":70,"type":"quantitative","scale":{"domain":[-132.1,682.8],"nice":false,"zero":false},"axis":null},
  "y2":{"datum":30}}},
{"data":{"name":"rsilev"},"mark":{"type":"rule","color":"#b5b5b5","strokeWidth":1,"strokeDash":[5,4]},
 "encoding":{"y":{"field":"v","type":"quantitative","scale":{"domain":[-132.1,682.8],"nice":false,"zero":false},"axis":null}}},
{"data":{"name":"rsi"},"mark":{"type":"line","clip":true,"color":"#ab47c4","strokeWidth":1.3},
 "encoding":{"x":{"field":"d","type":"temporal"},
  "y":{"field":"v","type":"quantitative","scale":{"domain":[-132.1,682.8],"nice":false,"zero":false},"axis":null}}},
{"data":{"name":"one"},"mark":{"type":"rule","color":"#777777","strokeWidth":1.5},
 "encoding":{"y":{"datum":4.7,"type":"quantitative","scale":{"domain":[-132.1,682.8],"nice":false,"zero":false},"axis":null}}}
]},
{"layer":[
{"data":{"name":"one"},"mark":{"type":"rect","color":"#e8cdfc"},
 "encoding":{"x":{"datum":{"year":2019,"month":7,"date":22,"hours":11,"minutes":8,"utc":true},"type":"temporal"},
  "x2":{"datum":{"year":2020,"month":7,"date":12,"hours":21,"minutes":7,"utc":true}},
  "y":{"datum":80,"type":"quantitative","scale":{"domain":[-21.6,722.6],"nice":false,"zero":false},"axis":null},
  "y2":{"datum":20}}},
{"data":{"name":"stlev"},"mark":{"type":"rule","color":"#8a8a8a","strokeWidth":1.5,"strokeDash":[5,4]},
 "encoding":{"y":{"field":"v","type":"quantitative","scale":{"domain":[-21.6,722.6],"nice":false,"zero":false},"axis":null}}},
{"data":{"name":"stk"},"mark":{"type":"line","clip":true,"color":"#3f8cf5","strokeWidth":1.3},
 "encoding":{"x":{"field":"d","type":"temporal"},
  "y":{"field":"v","type":"quantitative","scale":{"domain":[-21.6,722.6],"nice":false,"zero":false},"axis":null}}},
{"data":{"name":"std"},"mark":{"type":"line","clip":true,"color":"#f26a3d","strokeWidth":1.3},
 "encoding":{"x":{"field":"d","type":"temporal"},
  "y":{"field":"v","type":"quantitative","scale":{"domain":[-21.6,722.6],"nice":false,"zero":false},"axis":null}}},
{"data":{"name":"one"},"mark":{"type":"rule","color":"#888888","strokeWidth":1.5},
 "encoding":{"y":{"datum":1.5,"type":"quantitative","scale":{"domain":[-21.6,722.6],"nice":false,"zero":false},"axis":null}}},
{"data":{"name":"one"},"mark":{"type":"rule","color":"#bdbdbd","strokeWidth":2},
 "encoding":{"y":{"datum":-21.6,"type":"quantitative","scale":{"domain":[-21.6,722.6],"nice":false,"zero":false},"axis":null}}}
]}
],
"resolve":{"scale":{"y":"independent"}}
}
